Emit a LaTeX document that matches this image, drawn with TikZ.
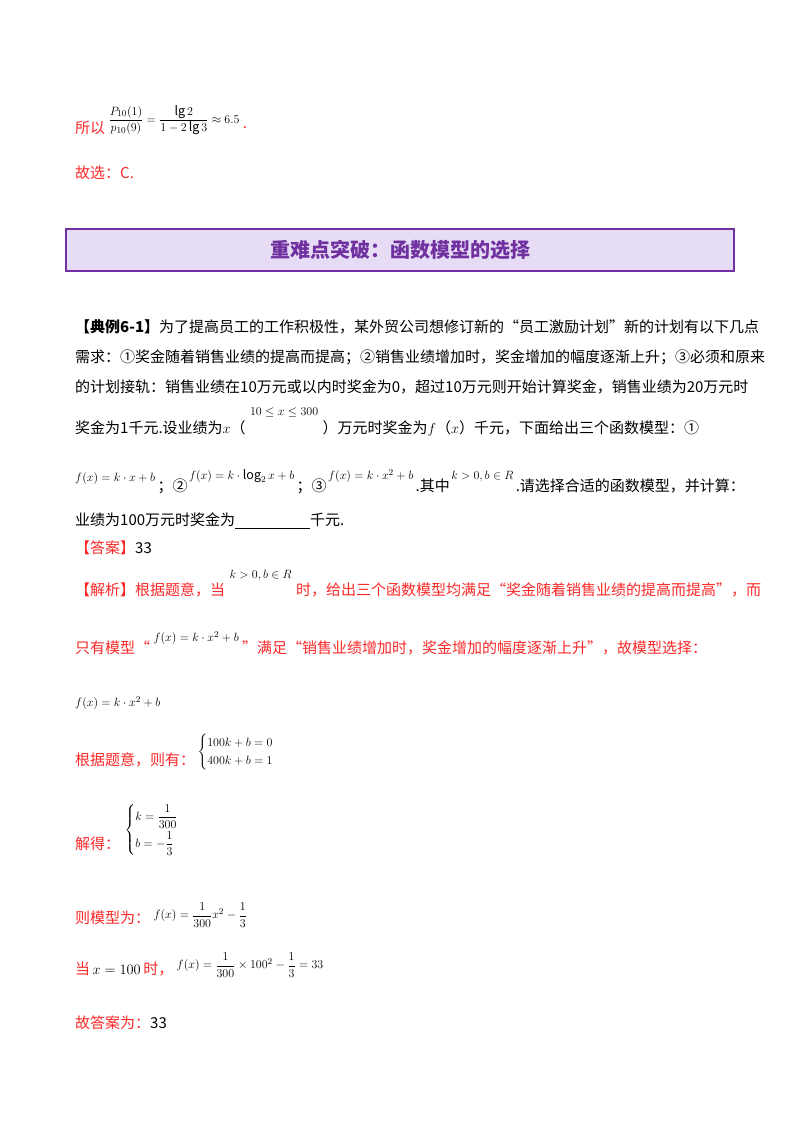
\documentclass[tikz,border=0pt]{standalone}
\usepackage{fontspec}
\setmainfont{Noto Sans CJK SC}
\usepackage{amsmath}
\definecolor{rd}{RGB}{250,40,40}
\definecolor{pu}{RGB}{112,48,160}
\definecolor{pf}{RGB}{230,220,245}
\begin{document}
\begin{tikzpicture}[x=1pt,y=-1pt,
  t/.style={anchor=west,inner sep=0pt,font=\fontsize{15}{18}\selectfont},
  r/.style={t,text=rd},
  m/.style={anchor=west,inner sep=0pt,font=\fontsize{12.5}{15}\selectfont}]
\useasboundingbox (0,0) rectangle (800,1132);
\foreach \v in {120,128,412,476,486,575,590,638,648,830,844,915,918,965,969}{\coordinate (y\v) at (0,\v);}
\node[r] (l1) at (75,128) {所以};
\node[m] (l1m) at ([xshift=3pt]l1.east |- y120) {$\dfrac{P_{10}(1)}{p_{10}(9)}=\dfrac{\mathrm{lg}\,2}{1-2\,\mathrm{lg}\,3}\approx 6.5$};
\node[r] (l1d) at ([xshift=3pt]l1m.east |- y128) {.};
\node[r] (l2) at (75,173) {故选：C.};
\node[draw=pu,line width=2.5pt,fill=pf,minimum width=668,minimum height=42,inner sep=0pt] (box) at (400,250) {};
\node[text=pu,font=\fontsize{20}{22}\selectfont\bfseries] (title) at (box) {重难点突破：函数模型的选择};
\node[t] (p1) at (75,327) {\textbf{【典例6-1】}为了提高员工的工作积极性，某外贸公司想修订新的“员工激励计划”新的计划有以下几点};
\node[t] (p2) at (75,357) {需求：①奖金随着销售业绩的提高而提高；②销售业绩增加时，奖金增加的幅度逐渐上升；③必须和原来};
\node[t] (p3) at (75,387) {的计划接轨：销售业绩在10万元或以内时奖金为0，超过10万元则开始计算奖金，销售业绩为20万元时};
\node[t] (p4) at (75,428) {奖金为1千元.设业绩为$x$（};
\node[m] (p4m) at ([xshift=4pt]p4.east |- y412) {$10\le x\le 300$};
\node[t] (p4b) at ([xshift=4pt]p4m.east |- p4.west) {）万元时奖金为$f$（$x$）千元，下面给出三个函数模型：①};
\node[m] (p5a) at (75,478) {$f(x)=k\cdot x+b$};
\node[t] (p5b) at ([xshift=2pt]p5a.east |- y486) {；②};
\node[m] (p5c) at ([xshift=1pt]p5b.east |- y476) {$f(x)=k\cdot \log_2 x+b$};
\node[t] (p5d) at ([xshift=2pt]p5c.east |- y486) {；③};
\node[m] (p5e) at ([xshift=1pt]p5d.east |- y476) {$f(x)=k\cdot x^2+b$};
\node[t] (p5f) at ([xshift=2pt]p5e.east |- y486) {.其中};
\node[m] (p5g) at ([xshift=1pt]p5f.east |- y476) {$k>0,b\in R$};
\node[t] (p5h) at ([xshift=2pt]p5g.east |- y486) {.请选择合适的函数模型，并计算：};
\node[t] (p6) at (75,521) {业绩为100万元时奖金为\underline{\hspace{5em}}千元.};
\node[t] (a1) at (75,548) {\textcolor{rd}{【答案】}33};
\node[r] (a2) at (75,590) {【解析】根据题意，当};
\node[m] (a2m) at ([xshift=4pt]a2.east |- y575) {$k>0,b\in R$};
\node[r] (a2b) at ([xshift=4pt]a2m.east |- y590) {时，给出三个函数模型均满足“奖金随着销售业绩的提高而提高”，而};
\node[r] (a3) at (75,648) {只有模型“};
\node[m] (a3m) at ([xshift=3pt]a3.east |- y638) {$f(x)=k\cdot x^2+b$};
\node[r] (a3b) at ([xshift=3pt]a3m.east |- y648) {”满足“销售业绩增加时，奖金增加的幅度逐渐上升”，故模型选择：};
\node[m] (a4) at (75,703) {$f(x)=k\cdot x^2+b$};
\node[r] (a5) at (75,760) {根据题意，则有：};
\node[m] (a5m) at ([xshift=2pt]a5.east |- {0,752}) {$\begin{cases}100k+b=0\\400k+b=1\end{cases}$};
\node[r] (a6) at (75,844) {解得：};
\node[m] (a6m) at ([xshift=4pt]a6.east |- y830) {$\begin{cases}k=\dfrac{1}{300}\\[6pt] b=-\dfrac13\end{cases}$};
\node[r] (a7) at (75,918) {则模型为：};
\node[m] (a7m) at ([xshift=3pt]a7.east |- y915) {$f(x)=\dfrac{1}{300}x^2-\dfrac13$};
\node[r] (a8) at (75,969) {当\,\textcolor{black}{$x=100$}\,时，};
\node[m] (a8m) at ([xshift=3pt]a8.east |- y965) {$f(x)=\dfrac{1}{300}\times100^2-\dfrac13=33$};
\node[r] (a9) at (75,1023) {故答案为：\textcolor{black}{33}};
\end{tikzpicture}
\end{document}
